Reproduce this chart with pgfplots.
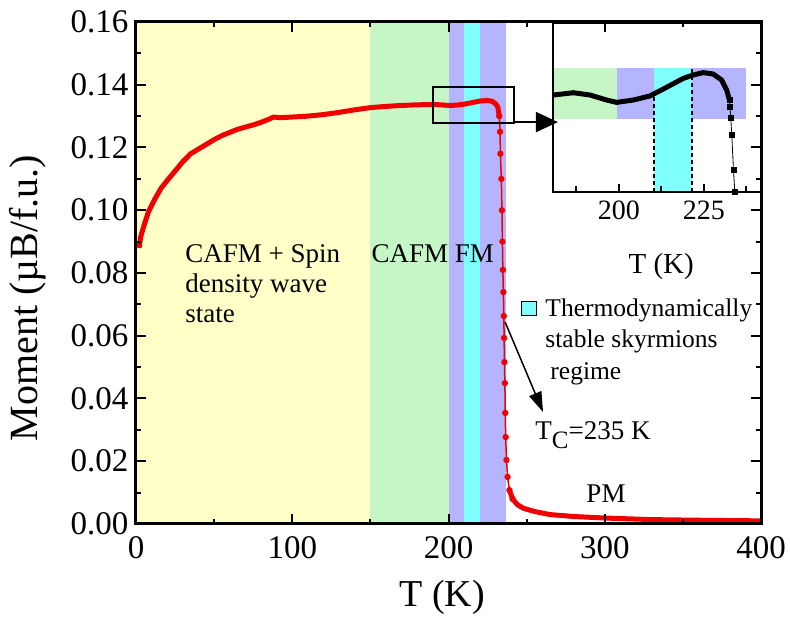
\documentclass[border=0pt]{standalone}
\usepackage{pgfplots}
\pgfplotsset{compat=1.18}
\usepackage{fontspec}
\setmainfont{Liberation Serif}
\usetikzlibrary{arrows.meta}

\definecolor{yelc}{RGB}{255,255,200}
\definecolor{grnc}{RGB}{198,246,198}
\definecolor{purc}{RGB}{181,181,255}
\definecolor{cyac}{RGB}{128,255,255}
\definecolor{redc}{RGB}{240,0,0}

\begin{document}
\begin{tikzpicture}
\path[use as bounding box] (0,0) rectangle (790pt,623pt);

% main plot
\begin{axis}[
    at={(136pt,99pt)}, anchor=south west,
    width=625pt, height=502pt, scale only axis,
    xmin=0, xmax=400, ymin=0, ymax=0.16,
    xtick={0,100,...,400}, minor x tick num=1,
    ytick={0,0.02,...,0.16}, minor y tick num=1,
    tick align=inside,
    major tick length=10pt, minor tick length=5pt,
    every tick/.style={line width=2pt, black},
    axis line style={line width=3pt},
    axis on top,
    /pgf/number format/assume math mode=true,
    yticklabel style={/pgf/number format/fixed, /pgf/number format/fixed zerofill, /pgf/number format/precision=2},
    scaled y ticks=false,
    ticklabel style={font=\fontsize{33}{33}\selectfont},
    xticklabel style={yshift=-9pt},
    yticklabel style={xshift=-4pt},
    xlabel={T (K)},
    ylabel={Moment (µB/f.u.)},
    xlabel style={font=\fontsize{38}{38}\selectfont, at={(axis description cs:0.49,-0.147)}, anchor=center},
    ylabel style={font=\fontsize{40}{40}\selectfont, at={(axis description cs:-0.173,0.45)}, anchor=center},
]
% phase regions
\addplot[draw=none, fill=yelc] coordinates {(0,0) (0,0.16) (150,0.16) (150,0)} -- cycle;
\addplot[draw=none, fill=grnc] coordinates {(150,0) (150,0.16) (200,0.16) (200,0)} -- cycle;
\addplot[draw=none, fill=purc] coordinates {(200,0) (200,0.16) (210,0.16) (210,0)} -- cycle;
\addplot[draw=none, fill=cyac] coordinates {(210,0) (210,0.16) (220,0.16) (220,0)} -- cycle;
\addplot[draw=none, fill=purc] coordinates {(220,0) (220,0.16) (237,0.16) (237,0)} -- cycle;

% magnetisation
\addplot[redc, line width=5pt, line join=round] coordinates {
(2,0.0880) (3,0.0915) (5,0.0950) (8,0.0995) (12,0.1035) (16,0.1070) (20,0.1095)
(25,0.1125) (30,0.1155) (35,0.1180) (40,0.1195) (45,0.1210) (50,0.1225) (55,0.1238)
(60,0.1248) (65,0.1258) (70,0.1265) (75,0.1272) (80,0.1280) (85,0.1290) (88,0.1297)
(92,0.1295) (100,0.1297) (110,0.1300) (120,0.1305) (130,0.1312) (140,0.1320)
(150,0.1327) (160,0.1331) (170,0.1334) (180,0.1336) (190,0.1337) (195,0.1336)
(200,0.1334) (205,0.1335) (210,0.1338) (215,0.1343) (220,0.1348) (225,0.1350)
(228,0.1347) (230,0.1340) (231.5,0.1330) (232.5,0.1300)
};
\addplot[redc, line width=1.5pt, mark=*, mark size=2.4pt] coordinates {
(232.5,0.1300) (233,0.1250) (233.2,0.1180) (233.8,0.110) (234.2,0.100) (234.5,0.090)
(234.8,0.081) (235.1,0.0739) (235.4,0.0663) (235.6,0.0593) (235.8,0.0516)
(236.1,0.0449) (236.3,0.0354) (236.6,0.0277) (237.1,0.0204) (237.8,0.0150)
(239,0.0108) (241,0.0080)
};
\addplot[redc, line width=5pt, line join=round] coordinates {
(239,0.0108) (241,0.0080) (244,0.0062) (248,0.0050) (255,0.0040) (265,0.0030)
(280,0.0024) (300,0.0019) (330,0.0014) (360,0.0012) (400,0.0010)
};

% zoom box and arrow
\draw[line width=2pt] (axis cs:190,0.1278) rectangle (axis cs:242,0.1393);
\draw[line width=2pt, -{Triangle[length=22pt,width=20pt]}] (axis cs:242,0.1281) -- (axis cs:270,0.1281);

% labels
\node[anchor=base west, font=\fontsize{27}{27}\selectfont] at (axis cs:29.4,0.0832) {CAFM + Spin};
\node[anchor=base west, font=\fontsize{27}{27}\selectfont] at (axis cs:29.4,0.0737) {density wave};
\node[anchor=base west, font=\fontsize{27}{27}\selectfont] at (axis cs:29.4,0.0642) {state};
\node[anchor=base west, font=\fontsize{27}{27}\selectfont] at (axis cs:148.5,0.0832) {CAFM FM};
\draw[line width=1pt, fill=cyac] (axis cs:246.4,0.0666) rectangle (axis cs:256.6,0.0708);
\node[anchor=base west, font=\fontsize{25.5}{25.5}\selectfont] at (axis cs:259.8,0.0660) {Thermodynamically};
\node[anchor=base west, font=\fontsize{25.5}{25.5}\selectfont] at (axis cs:259.8,0.0561) {stable skyrmions};
\node[anchor=base west, font=\fontsize{25.5}{25.5}\selectfont] at (axis cs:263,0.0459) {regime};
\draw[line width=1.5pt, -{Triangle[length=20pt,width=13pt]}] (axis cs:236.2,0.0644) -- (axis cs:260.5,0.0357);
\node[anchor=base west, font=\fontsize{27}{27}\selectfont] at (axis cs:253.4,0.0268) {T{\fontsize{25}{25}\selectfont\raisebox{-9pt}{C}}=235 K};
\node[anchor=base, font=\fontsize{27}{27}\selectfont] at (axis cs:300.8,0.0070) {PM};
\end{axis}

% inset
\begin{axis}[
    at={(553pt,431pt)}, anchor=south west,
    width=208pt, height=169pt, scale only axis,
    xmin=180.6, xmax=241.8, ymin=0.12884, ymax=0.13759,
    xtick={200,225}, minor xtick={187.5,212.5,237.5},
    ytick=\empty,
    xtick pos=bottom,
    tick align=inside,
    major tick length=8pt, minor tick length=6pt,
    every tick/.style={line width=2pt, black},
    axis line style={line width=2.5pt},
    axis on top,
    /pgf/number format/assume math mode=true,
    ticklabel style={font=\fontsize{28}{28}\selectfont},
    xticklabel style={yshift=-5pt},
    xlabel={T (K)},
    xlabel style={font=\fontsize{29}{29}\selectfont, at={(axis description cs:0.52,-0.44)}, anchor=center},
]
\addplot[draw=none, fill=grnc] coordinates {(180.6,0.13262) (180.6,0.13526) (199.3,0.13526) (199.3,0.13262)} -- cycle;
\addplot[draw=none, fill=purc] coordinates {(199.3,0.13262) (199.3,0.13526) (210.3,0.13526) (210.3,0.13262)} -- cycle;
\addplot[draw=none, fill=cyac] coordinates {(210.3,0.12884) (210.3,0.13526) (221.6,0.13526) (221.6,0.12884)} -- cycle;
\addplot[draw=none, fill=purc] coordinates {(221.6,0.13262) (221.6,0.13526) (237.3,0.13526) (237.3,0.13262)} -- cycle;
\addplot[black, line width=2pt, dash pattern=on 4pt off 3pt] coordinates {(210.3,0.12884) (210.3,0.13381)};
\addplot[black, line width=2pt, dash pattern=on 4pt off 3pt] coordinates {(221.6,0.12884) (221.6,0.13526)};
\addplot[black, line width=5pt, line join=round] coordinates {
(180.7,0.13386) (186.6,0.13398) (191.5,0.13386) (196.4,0.13360) (199.3,0.13348)
(204.2,0.13360) (209.1,0.13381) (214.0,0.13426) (218.9,0.13472) (221.9,0.13490)
(224.8,0.13502) (227.7,0.13495) (230.2,0.13464) (231.7,0.13412) (232.5,0.13360)
};
\addplot[black, line width=0.8pt, mark=square*, mark size=2.5pt] coordinates {
(232.5,0.13360) (232.7,0.13323) (232.9,0.13269) (233.2,0.13179) (233.7,0.12998) (234.1,0.12884)
};
\end{axis}
\end{tikzpicture}
\end{document}
